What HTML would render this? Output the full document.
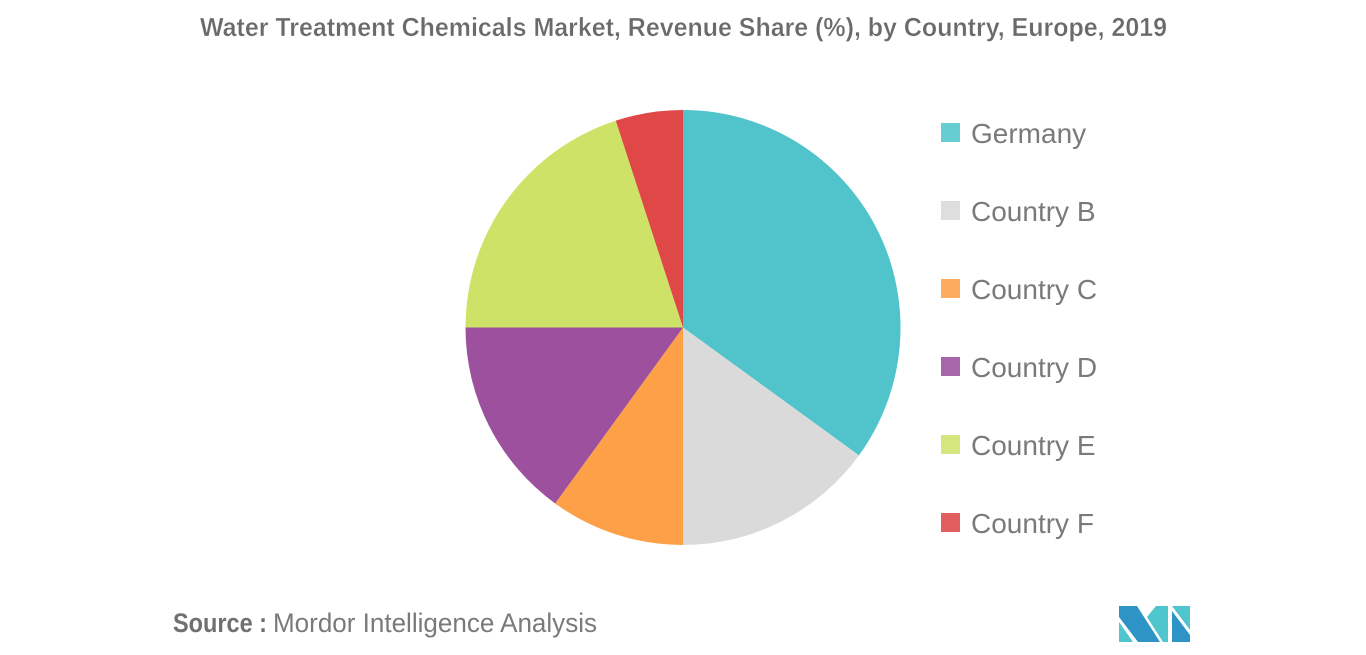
<!DOCTYPE html>
<html lang="en">
<head>
<meta charset="utf-8">
<title>Water Treatment Chemicals Market, Revenue Share (%), by Country, Europe, 2019</title>
<style>
html,body{margin:0;padding:0;background:#fff;width:1366px;height:655px;overflow:hidden}
svg{display:block}
text{font-family:"Liberation Sans",sans-serif}
</style>
</head>
<body>
<svg id="chart" xmlns="http://www.w3.org/2000/svg" width="1366" height="655" viewBox="0 0 1366 655">
  <rect x="0" y="0" width="1366" height="655" fill="#ffffff"/>
  <text x="200" y="36" font-size="26" font-weight="bold" fill="#6a6a6a" stroke="#ffffff" stroke-width="0.35" textLength="967" lengthAdjust="spacingAndGlyphs">Water Treatment Chemicals Market, Revenue Share (%), by Country, Europe, 2019</text>
  <g id="slices"></g>
  <g id="legend"></g>
  <text x="173" y="632" font-size="26.5" font-weight="bold" fill="#707070" textLength="94" lengthAdjust="spacingAndGlyphs">Source :</text>
  <text x="273" y="632" font-size="27" fill="#7a7a7a" textLength="324" lengthAdjust="spacingAndGlyphs">Mordor Intelligence Analysis</text>
  <g>
    <polygon fill="#2e93c5" points="1119,606 1137,606 1160,642 1138,642 1119,617"/>
    <polygon fill="#4fc6cd" points="1119,622 1133,642 1119,642"/>
    <polygon fill="#4fc6cd" points="1147,617 1156,606 1168,606 1168,642 1163,642"/>
    <polygon fill="#4fc6cd" points="1172,606 1190,606 1190,630"/>
    <polygon fill="#2e93c5" points="1172,611 1190,635 1190,642 1172,642"/>
  </g>
</svg>
<script>
const categories = ["Germany", "Country B", "Country C", "Country D", "Country E", "Country F"];
const shares = [35, 15, 10, 15, 20, 5];
const sliceColors = ["#50c4ca", "#dadada", "#fea047", "#9c509e", "#cfe268", "#e04747"];
const legendColors = ["#66cdd2", "#dedede", "#fdab5f", "#a766a8", "#d6e67e", "#e35f5f"];

const svgNS = "http://www.w3.org/2000/svg";
const cx = 683, cy = 327.5, radius = 217.5;
const legendX = 941, legendTop = 123, legendStep = 78, swatch = 19;

function angleScale(cumulative, total) {
  return (cumulative / total) * 2 * Math.PI;
}
function polar(angle) {
  return [cx + radius * Math.sin(angle), cy - radius * Math.cos(angle)];
}
function legendY(index) {
  return legendTop + index * legendStep;
}

const total = shares.reduce(function (a, b) { return a + b; }, 0);
const sliceGroup = document.getElementById("slices");
const legendGroup = document.getElementById("legend");
let running = 0;

shares.forEach(function (value, i) {
  const a0 = angleScale(running, total);
  running += value;
  const a1 = angleScale(running, total);
  const p0 = polar(a0);
  const p1 = polar(a1);
  const large = (a1 - a0) > Math.PI ? 1 : 0;
  const slice = document.createElementNS(svgNS, "path");
  slice.setAttribute("d", "M" + cx + " " + cy + "L" + p0[0] + " " + p0[1] + "A" + radius + " " + radius + " 0 " + large + " 1 " + p1[0] + " " + p1[1] + "Z");
  slice.setAttribute("fill", sliceColors[i]);
  
  
  sliceGroup.appendChild(slice);

  const y = legendY(i);
  const box = document.createElementNS(svgNS, "rect");
  box.setAttribute("x", legendX);
  box.setAttribute("y", y);
  box.setAttribute("width", swatch);
  box.setAttribute("height", swatch);
  box.setAttribute("fill", legendColors[i]);
  
  
  legendGroup.appendChild(box);

  const label = document.createElementNS(svgNS, "text");
  label.setAttribute("x", legendX + 30);
  label.setAttribute("y", y + 20);
  label.setAttribute("font-size", "28");
  label.setAttribute("fill", "#7a7a7a");
  label.textContent = categories[i];
  
  
  legendGroup.appendChild(label);
});
</script>
</body>
</html>
